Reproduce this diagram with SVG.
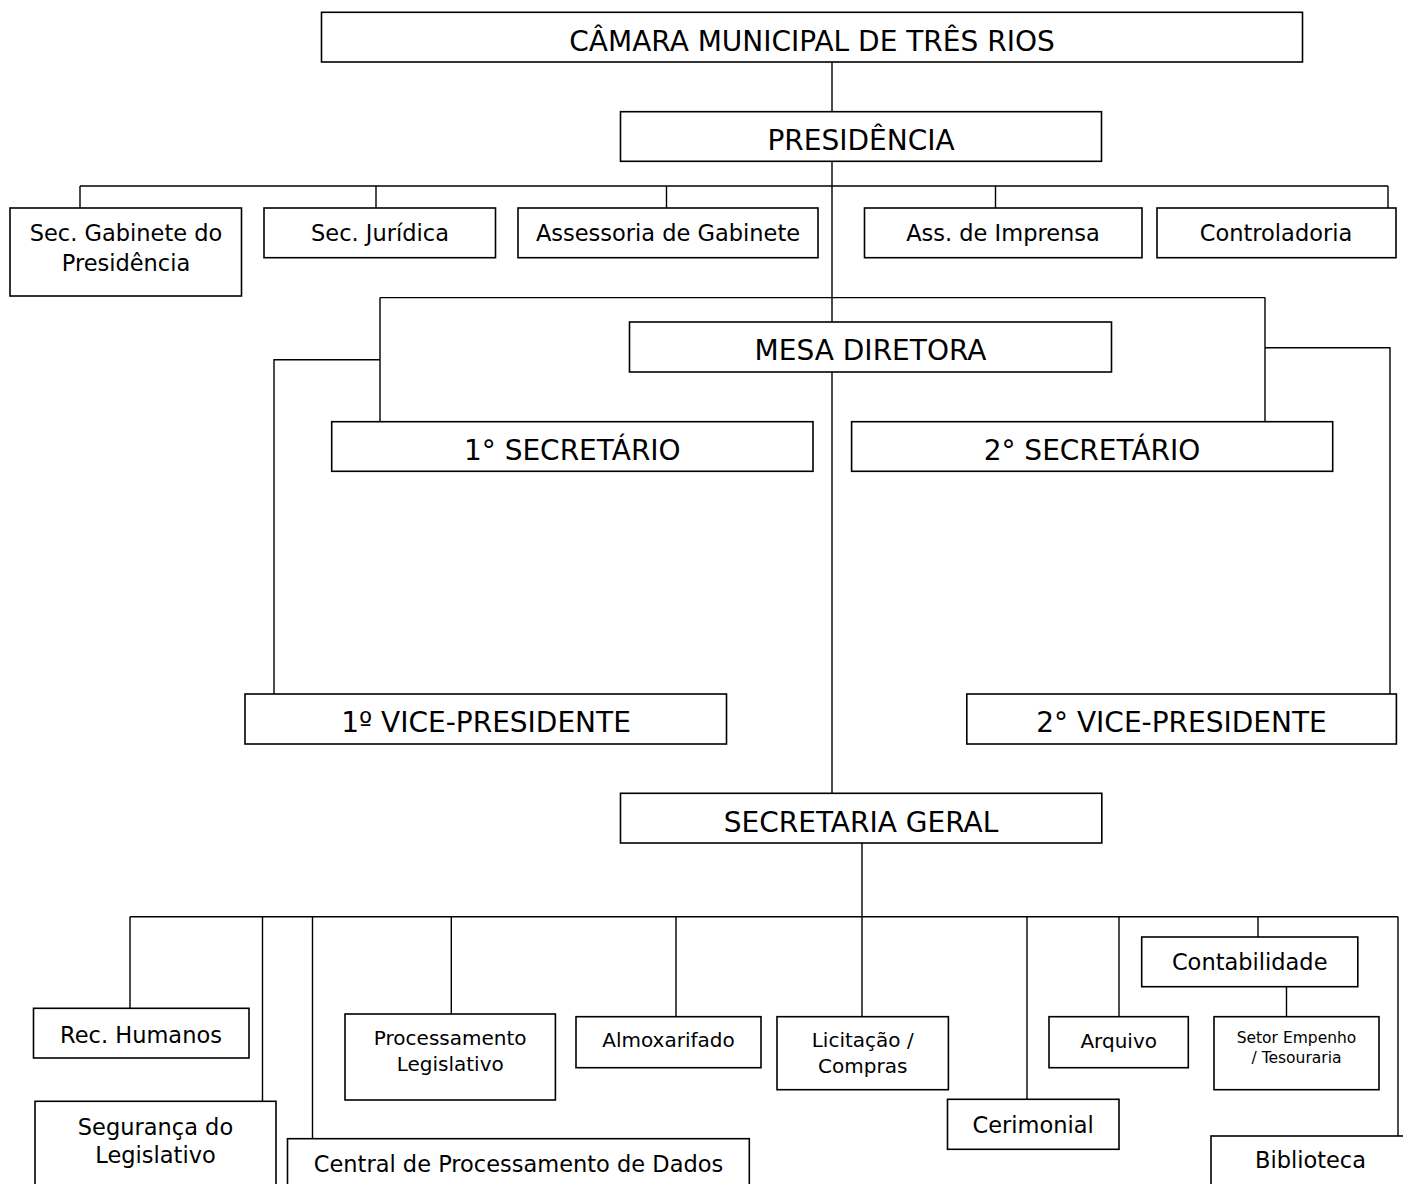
<svg xmlns="http://www.w3.org/2000/svg" width="1403" height="1184" viewBox="0 0 1403 1184">
<style>
.b{fill:#fff;stroke:#000;stroke-width:1.6}
.c{fill:none;stroke:#000;stroke-width:1.4}
text{font-family:"DejaVu Sans","Verdana",sans-serif;fill:#000;text-anchor:middle}
.L{font-size:28px}
.M{font-size:22.5px}
.S{font-size:20px}
.T{font-size:15.5px}
</style>
<rect width="1403" height="1184" fill="#fff"/>
<g id="connectors">
<path class="c" d="M832,62V112M832,161V322M80,186H1388M80,186V208M376,186V208M666.5,186V208M995.5,186V208M1388,186V208"/>
<path class="c" d="M380,297.6H1265M380,297.6V421.7M1265,297.6V421.7M380,359.7H274V694M1265,347.7H1390V694"/>
<path class="c" d="M832,372V793.3M862,843V916.7M130,916.7H1398M130,916.7V1008.3M262.5,916.7V1101.3M312.5,916.7V1138.7M451.3,916.7V1014M676,916.7V1016.7M862,916.7V1016.7M1027,916.7V1099.3M1119,916.7V1016.7M1258,916.7V937M1286.5,986.7V1016.7M1398,916.7V1136"/>
</g>
<g id="camara"><rect class="b" x="321.5" y="12.3" width="981" height="49.7"/><text class="L" x="812" y="51">CÂMARA MUNICIPAL DE TRÊS RIOS</text></g>
<g id="presidencia"><rect class="b" x="620.5" y="111.7" width="481" height="49.6"/><text class="L" x="861" y="149.5">PRESIDÊNCIA</text></g>
<g id="sec-gabinete"><rect class="b" x="10" y="208" width="231.5" height="88"/><text class="M" x="126" y="240.7">Sec. Gabinete do</text><text class="M" x="126" y="270.7">Presidência</text></g>
<g id="sec-juridica"><rect class="b" x="264" y="208" width="231.5" height="49.7"/><text class="M" x="380" y="240.7">Sec. Jurídica</text></g>
<g id="assessoria"><rect class="b" x="518" y="208" width="300" height="49.7"/><text class="M" x="668" y="240.7">Assessoria de Gabinete</text></g>
<g id="imprensa"><rect class="b" x="864.5" y="208" width="277.5" height="49.7"/><text class="M" x="1003" y="240.7">Ass. de Imprensa</text></g>
<g id="controladoria"><rect class="b" x="1157" y="208" width="239" height="49.7"/><text class="M" x="1276" y="240.7">Controladoria</text></g>
<g id="mesa"><rect class="b" x="629.5" y="322" width="482" height="50"/><text class="L" x="870.5" y="360">MESA DIRETORA</text></g>
<g id="sec1"><rect class="b" x="331.7" y="421.7" width="481.3" height="49.6"/><text class="L" x="572.3" y="460">1° SECRETÁRIO</text></g>
<g id="sec2"><rect class="b" x="851.6" y="421.7" width="481.1" height="49.6"/><text class="L" x="1092" y="460">2° SECRETÁRIO</text></g>
<g id="vice1"><rect class="b" x="245" y="694" width="481.5" height="50"/><text class="L" x="486" y="731.7">1º VICE-PRESIDENTE</text></g>
<g id="vice2"><rect class="b" x="966.8" y="694" width="429.6" height="50"/><text class="L" x="1181.5" y="731.7">2° VICE-PRESIDENTE</text></g>
<g id="secretaria-geral"><rect class="b" x="620.5" y="793.3" width="481.3" height="49.7"/><text class="L" x="861" y="831.7">SECRETARIA GERAL</text></g>
<g id="rec-humanos"><rect class="b" x="33.5" y="1008.3" width="215.5" height="49.7"/><text class="M" x="141" y="1042.7">Rec. Humanos</text></g>
<g id="seguranca"><rect class="b" x="35" y="1101.3" width="241" height="100"/><text class="M" x="155.5" y="1135">Segurança do</text><text class="M" x="155.5" y="1163.3">Legislativo</text></g>
<g id="cpd"><rect class="b" x="287.5" y="1138.7" width="461.8" height="60"/><text class="M" x="518.5" y="1171.7">Central de Processamento de Dados</text></g>
<g id="proc-legislativo"><rect class="b" x="345" y="1014" width="210.4" height="86"/><text class="S" x="450.2" y="1045">Processamento</text><text class="S" x="450.2" y="1071">Legislativo</text></g>
<g id="almoxarifado"><rect class="b" x="576" y="1016.7" width="185" height="51"/><text class="S" x="668.5" y="1046.7">Almoxarifado</text></g>
<g id="licitacao"><rect class="b" x="777" y="1016.7" width="171.4" height="73"/><text class="S" x="862.7" y="1046.7">Licitação /</text><text class="S" x="862.7" y="1073.3">Compras</text></g>
<g id="cerimonial"><rect class="b" x="947.5" y="1099.3" width="171.5" height="50"/><text class="M" x="1033.2" y="1132.7">Cerimonial</text></g>
<g id="arquivo"><rect class="b" x="1049" y="1016.7" width="139.3" height="51"/><text class="S" x="1118.7" y="1047.7">Arquivo</text></g>
<g id="contabilidade"><rect class="b" x="1141.7" y="937" width="216.1" height="49.7"/><text class="M" x="1249.7" y="970">Contabilidade</text></g>
<g id="setor-empenho"><rect class="b" x="1214" y="1016.7" width="165" height="73"/><text class="T" x="1296.5" y="1042.7">Setor Empenho</text><text class="T" x="1296.5" y="1062.7">/ Tesouraria</text></g>
<g id="biblioteca"><rect class="b" x="1211" y="1136" width="210" height="70"/><text class="M" x="1310.5" y="1168.3">Biblioteca</text></g>
</svg>
